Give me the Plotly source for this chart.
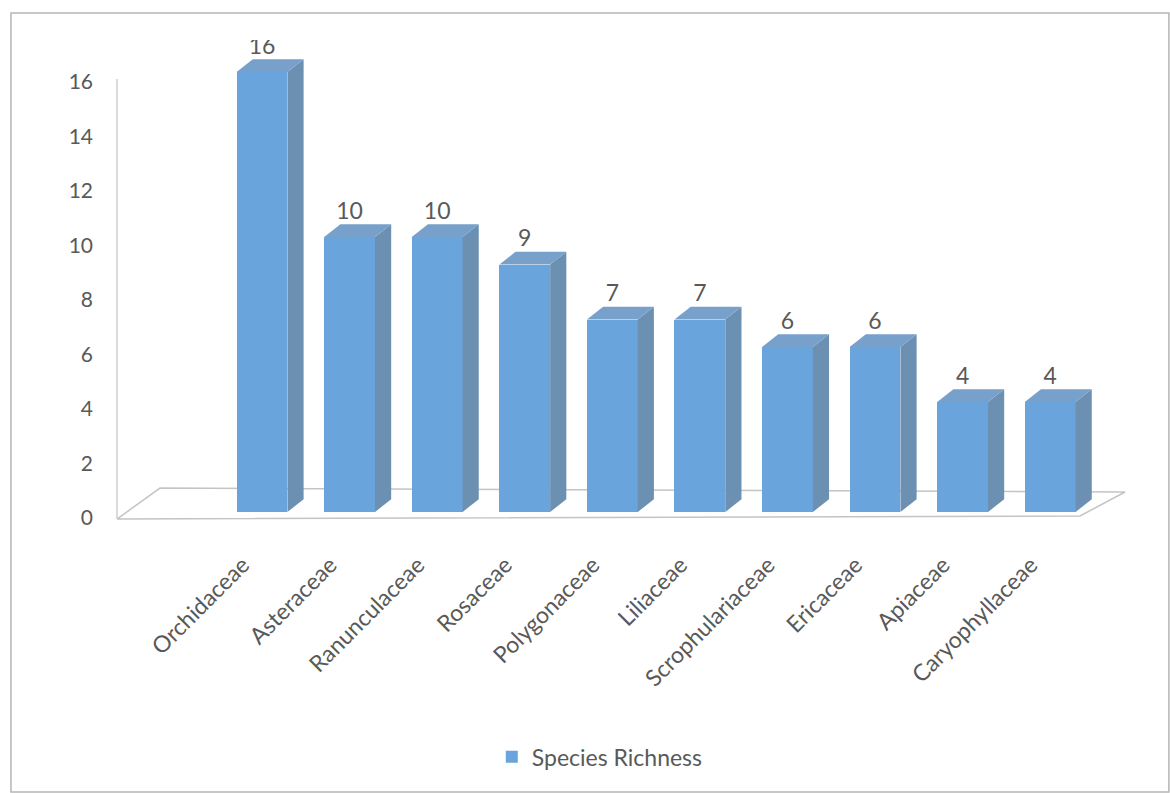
import plotly.graph_objects as go

# ---- data ----
families = ["Orchidaceae", "Asteraceae", "Ranunculaceae", "Rosaceae", "Polygonaceae",
            "Liliaceae", "Scrophulariaceae", "Ericaceae", "Apiaceae", "Caryophyllaceae"]
richness = [16, 10, 10, 9, 7, 7, 6, 6, 4, 4]
series_name = "Species Richness"
y_ticks = [0, 2, 4, 6, 8, 10, 12, 14, 16]

# ---- style / pseudo-3D geometry ----
FRONT = "#69A5DC"
SIDE = "#6B90B2"
TOP = "#77A0CB"
TEXT = "#595959"
FONT = "Lato"
W = 0.58      # front face width (category units)
DX = 0.185    # depth offset in x
DY = 0.46     # depth offset in y
LABEL_SHIFT = 0.22

xs = list(range(len(families)))
fig = go.Figure()

# ---- base subplot (x, y): floor + wall, drawn behind the bars ----
fig.add_trace(go.Scatter(
    x=[-1.656, -1.165, 9.855, 9.34, -1.656],
    y=[-0.037, 1.10, 0.954, 0.073, -0.037],
    mode="lines", line=dict(color="#c4c4c4", width=1.5),
    showlegend=False, hoverinfo="skip"))
fig.add_trace(go.Scatter(
    x=[-1.656, -1.656], y=[-0.037, 16.11],
    mode="lines", line=dict(color="#cfcfcf", width=1.5),
    showlegend=False, hoverinfo="skip"))

# ---- overlay subplot (x, y2): bars ----
fig.add_trace(go.Bar(
    x=xs, y=richness, width=W, name=series_name, yaxis="y2",
    marker=dict(color=FRONT, line=dict(width=0)), showlegend=True))

for i, v in zip(xs, richness):
    r = i + W / 2
    l = i - W / 2
    fig.add_trace(go.Scatter(
        x=[r, r + DX, r + DX, r, r], y=[0, DY, v + DY, v, 0], yaxis="y2",
        mode="lines", fill="toself", fillcolor=SIDE, line=dict(width=0, color=SIDE),
        showlegend=False, hoverinfo="skip"))
    fig.add_trace(go.Scatter(
        x=[l, l + DX, r + DX, r, l], y=[v, v + DY, v + DY, v, v], yaxis="y2",
        mode="lines", fill="toself", fillcolor=TOP, line=dict(width=0, color=TOP),
        showlegend=False, hoverinfo="skip"))

fig.add_trace(go.Scatter(
    x=xs, y=[v + DY for v in richness], yaxis="y2", mode="text",
    text=[str(v) for v in richness], textposition="top center",
    textfont=dict(family=FONT, size=23, color=TEXT),
    showlegend=False, hoverinfo="skip"))

fig.update_layout(
    width=1170, height=793,
    margin=dict(l=100, r=20, t=40, b=263),
    paper_bgcolor="white", plot_bgcolor="white",
    font=dict(family=FONT, color=TEXT),
    bargap=0,
    xaxis=dict(range=[-1.85, 10.14], tickmode="array",
               tickvals=[i - LABEL_SHIFT for i in xs], ticktext=families,
               tickangle=-45, showgrid=False, zeroline=False, showline=False,
               ticks="", tickfont=dict(family=FONT, size=23, color=TEXT),
               ticklabelstandoff=16),
    yaxis=dict(range=[-0.44, 17.54], tickmode="array", tickvals=y_ticks,
               showgrid=False, zeroline=False, showline=False, ticks="",
               ticklabelstandoff=6, tickfont=dict(family=FONT, size=21, color=TEXT)),
    yaxis2=dict(range=[-0.655, 17.164], overlaying="y", side="left", anchor="x",
                showticklabels=False, showgrid=False, zeroline=False,
                showline=False, ticks=""),
    legend=dict(orientation="h", x=0.476, xanchor="center", y=-0.463, yanchor="middle",
                font=dict(family=FONT, size=23, color=TEXT)),
    shapes=[dict(type="rect", xref="paper", yref="paper",
                 x0=-0.0848, x1=1.018, y0=-0.5347, y1=1.055,
                 line=dict(color="#b5b5b5", width=1.5), fillcolor="rgba(0,0,0,0)")],
)

fig.write_html("out.html")
